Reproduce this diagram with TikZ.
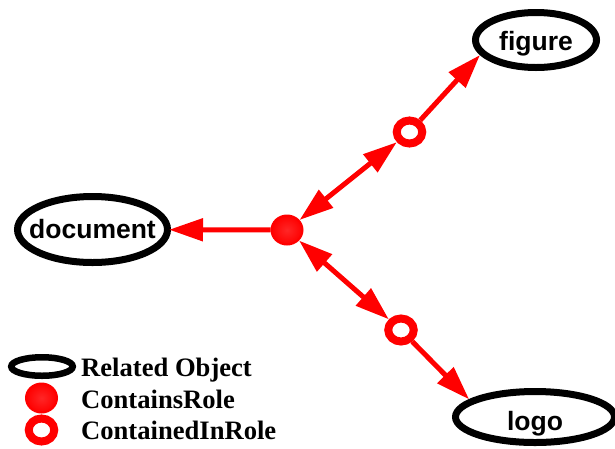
\documentclass[tikz,border=0pt]{standalone}
\usepackage{fontspec}
\setmainfont{Liberation Serif}
\setsansfont{Liberation Sans}
\usetikzlibrary{arrows.meta,shapes.geometric}
\definecolor{rd}{RGB}{255,0,0}
\newcommand{\lbl}[2]{\makebox[0pt]{\raisebox{-#1pt}[0pt][0pt]{#2}}}
\tikzset{
 every node/.style={inner sep=0pt},
 obj/.style={draw=black,line width=7pt,outer sep=3.5pt,ellipse,font=\sffamily\bfseries\fontsize{26.5}{28}\selectfont},
 fil/.style={ellipse,draw=rd,inner color=rd!85!white,outer color=rd,line width=2pt,outer sep=1pt,minimum width=31pt,minimum height=29pt},
 opn/.style={ellipse,draw=rd,fill=white,line width=8pt,outer sep=4pt,minimum width=25.5pt,minimum height=23pt},
 lnk/.style={draw=rd,line width=5pt},
 tip/.style={-{Triangle[length=34pt,width=22pt,fill=rd]}},
 bitip/.style={{Triangle[length=34pt,width=22pt,fill=rd]}-{Triangle[length=34pt,width=22pt,fill=rd]}},
 lgd/.style={anchor=base west,font=\bfseries\fontsize{26.6}{28}\selectfont}
}
\begin{document}
\begin{tikzpicture}[x=1pt,y=-1pt]
\useasboundingbox (0,0) rectangle (615,448);
\node[obj,minimum width=121pt,minimum height=55pt] (fig) at (536,40) {\lbl{10}{figure}};
\node[obj,minimum width=150pt,minimum height=66pt] (doc) at (92.5,229.5) {\lbl{9}{document}};
\node[obj,minimum width=159pt,minimum height=51pt] (logo) at (535,417) {\lbl{13.5}{logo}};
\node[fil] (c) at (287,230) {};
\node[opn] (a) at (409.5,132) {};
\node[opn] (b) at (401,330) {};
\draw[lnk,tip,shorten >=-2pt] (c) -- (doc);
\draw[lnk,tip] (a) -- (fig.195);
\draw[lnk,tip] (b) -- (logo.165);
\draw[lnk,bitip] (c) -- (a);
\draw[lnk,bitip] (c) -- (b);
\node[obj,line width=6.5pt,minimum width=61.5pt,minimum height=18.5pt] (k1) at (42,366.5) {};
\node[fil] (k2) at (41.5,398) {};
\node[opn] (k3) at (41.5,430) {};
\node[lgd] (t1) at (81,376) {Related Object};
\node[lgd] (t2) at (81,408) {ContainsRole};
\node[lgd] (t3) at (81,439) {ContainedInRole};
\end{tikzpicture}
\end{document}
